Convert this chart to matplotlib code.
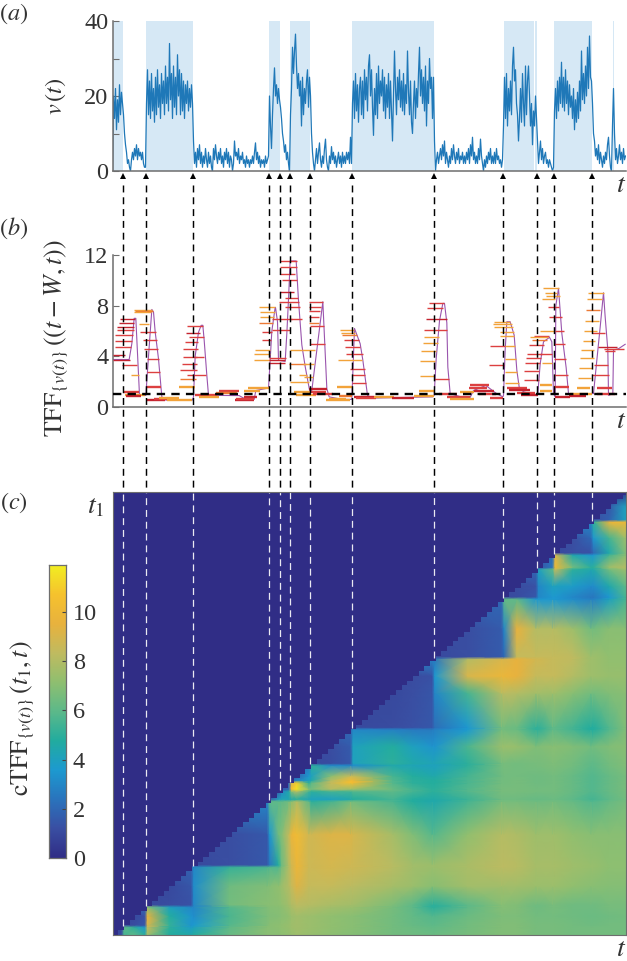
import numpy as np
import matplotlib
matplotlib.use("Agg")
import matplotlib.pyplot as plt
from matplotlib.colors import LinearSegmentedColormap
from matplotlib.lines import Line2D
from matplotlib.transforms import blended_transform_factory

plt.rcParams['font.family'] = ['Liberation Serif', 'DejaVu Serif']
plt.rcParams['mathtext.fontset'] = 'stix'
plt.rcParams['lines.scale_dashes'] = False

W_PX, H_PX = 627, 961
T_MAX = 1539

# ---------- panel (a): speed series, one sample every 3 time units ----------
v_a = [0,20,14,22,11,19,13,23,15,21,18,15,10,7,5,2,3,1,0,3,5,3,6,4,7,3,6,4,5,3,5,2,1,1]
v_b = [18,27,15,24,14,26,16,22,13,25,15,27,17,23,14,26,18,24,15,28,18,25,16,34,19,26,14,28,17,25,
       15,31,20,27,15,26,16,24,14,23,18,24,16,22,17,23,18]
v_c = [8,2,5,1,6,3,7,2,5,1,4,2,6,3,1,5,2,4,1,0,6,3,7,4,2,5,3,6,2,4,1,5,3,6,2,5,1,4,3,0,
       2,8,4,5,3,6,2,4,3,5,2,3,1,4,2,3,1,3,2,4,2,5,7.5,3,5,2,4,1,3,2,3,1,4,2,3]
v_d = [4,20,12,6,15,22,27.5,20,23,18,22,19,17,14,10,8,5,7,3,5,2,0]
v_e = [15,22,33,26,32,36.5,28,22,26,20,24,12,25,15,22,18,24,27,17,25,20]
v_f = [10,5,2,0,3,6,2,5,7.5,3,1,4,2,6,8.5,3,1,0,4,2,6.5,3,5,2,4,1,3,5,2,4,1,5,2,4,2,5,3,5,2,9,2]
v_g = [18,24,14,26,16,23,13,22,25,15,24,14,27,19,25,16,28,31,20,27,17,9.5,22,15,26,14,28,18,24,20,
       27,16,25,14,23,17,26,14,24,16,8,20,32,22,15,25,19,27,17,24,16,26,15,23,18,32,21,15,24,13,
       10,18,24,14,22,17,26,33,20,27,18,25,16,28,12,24,18,30,22,25,14,25]
v_h = [8,0,3,5,2,4,6,3,7,4,8,2,5,3,1,4,2,6,3,7,4,2,5,3,6,2,4,3,5,2,4,2,5,3,6,2,7,4,9,3,
       5,2,4,2,6,3,8.5,4,2,0,3,1,4,2,5,3,6,2,4,2,5,2,6,3,4,2,3,1,3]
v_i = [12,25,14,26,12,22,16,24,15,28,33,24,27,18,15,8,14,22,13,26,18,12,28,15,24,28,20,12,18,7,16,12,20,14]
v_j = [8,2,5,8,3,6,2,4,5,2,3,1,3,2,1,0,1]
v_k = [16,22,14,24,16,25,18,29,17,25,16,27,18,24,15,23,17,20,14,22,11,19,13,21,14,24,16,32,19,26,18,28,20,33,22,36,25,24]
v_l = [18,10,8,4,6,3,7,2,5,3,1,4,2,5,3,7,9,4,1,0,12,22,10,3,6,2,4,7,3,5,2,6,3,4]
speed = np.array(v_a + v_b + v_c + v_d + v_e + v_f + v_g + v_h + v_i + v_j + v_k + v_l, dtype=float)
speed_t = 3 * np.arange(len(speed))

congested = [(0,31),(101,240),(468,503),(533,593),(718,963),(1173,1263),(1268,1274),(1324,1439),(1500,1505)]
transitions = [31,101,240,468,503,533,593,718,963,1171,1274,1324,1439]

# ---------- panel (b): (left, right, value, colour index) of each window ----------
burst_1 = [(1,51,3.75,3),(1,38,4.09,3),(8,55,4.75,2),(8,58,5.22,2),(8,60,5.67,2),(13,63,6.07,2),(13,63,6.3,3),
           (18,65,6.65,3),(23,68,6.94,3),(28,73,3.3,2),(56,78,2.51,0),(31,80,1.19,2),(38,98,0.92,0),(40,85,0.88,3)]
burst_2 = [(63,118,7.65,0),(68,120,7.6,1),(63,116,7.52,0),(78,108,6.54,0),(83,130,5.94,2),(91,133,5.28,2),
           (95,135,4.6,2),(103,138,3.77,2),(103,141,2.77,2),(103,145,1.58,2),(103,158,0.58,3),(125,190,0.66,2),
           (163,238,0.53,0),(140,200,0.7,0)]
burst_3 = [(198,248,1.58,0),(203,250,2.24,1),(203,253,2.9,2),(208,253,3.43,2),(211,253,3.96,2),(211,255,4.54,2),
           (218,257,5.15,2),(220,263,5.88,3),(223,270,6.39,2),(223,281,2.51,2),(243,275,3.96,2),(228,273,5.49,2),
           (246,313,0.92,2),(260,320,0.8,0),(318,373,1.19,0),(320,380,1.3,2),(368,423,0.53,3),(393,433,0.79,3),
           (393,443,1.27,0),(405,468,1.5,0),(370,425,0.66,2),(310,370,1.1,1)]
burst_4 = [(438,488,7.92,0),(443,486,7.52,0),(443,483,7.12,0),(438,481,6.65,1),(448,478,5.94,2),(448,476,5.28,2),
           (428,473,4.49,0),(425,473,4.22,0),(423,471,3.69,0),(468,518,3.7,3),(470,518,3.5,3),(470,520,3.85,2),
           (478,538,6.94,2),(478,531,6.1,2),(501,543,9.1,3),(503,548,10.5,2),(508,553,10.03,2),(503,553,11.53,2),
           (503,553,11.08,2),(498,558,8.31,2),(518,556,8.63,2),(518,563,7.86,2),(533,568,6.94,2),(533,568,4.49,0),
           (528,581,3.43,1),(558,583,2.51,0),(533,588,1.98,0),(543,593,1.19,0),(550,610,0.95,0)]
burst_5 = [(588,631,8.31,2),(588,625,7.92,2),(590,623,7.57,2),(590,620,7.12,2),(590,618,6.6,1),(593,633,6.39,2),
           (593,638,5.01,2),(568,608,4.49,0),(570,605,3.43,0),(575,600,2.37,0),(590,643,1.45,3),(595,640,1.2,2),
           (600,660,1.0,2),(640,713,0.53,0),(650,700,0.62,0),(678,718,0.9,1)]
burst_6 = [(681,723,6.07,0),(685,728,5.88,0),(688,733,5.67,1),(693,738,5.28,2),(698,743,4.75,2),(701,751,4.22,2),
           (675,748,3.69,0),(713,758,3.03,2),(718,758,2.56,2),(718,761,1.9,2),(673,718,1.58,0),(723,783,0.79,3),
           (730,790,0.7,2),(783,843,0.8,0),(838,903,0.72,3),(903,963,0.85,0)]
burst_7 = [(948,993,8.18,2),(943,990,7.78,2),(940,1003,6.94,3),(935,1003,6.07,2),(933,978,5.49,0),(930,975,5.07,0),
           (926,971,4.43,0),(923,968,3.61,0),(921,965,2.45,0),(918,963,1.27,0),(965,1008,2.24,2),(978,1033,1.06,2),
           (1003,1073,0.79,2),(1013,1083,0.66,0),(1043,1083,1.19,0),(1073,1128,1.72,2),(1068,1123,1.53,2),
           (1083,1143,1.27,3),(1133,1171,0.74,2),(1100,1150,1.06,2)]
burst_8 = [(1143,1193,6.73,0),(1141,1198,6.54,0),(1145,1200,6.28,0),(1163,1203,5.94,0),(1163,1205,5.59,0),
           (1133,1176,4.83,2),(1130,1173,3.35,2),(1178,1208,4.8,0),(1178,1211,3.77,0),(1178,1213,2.77,0),
           (1178,1218,1.9,0),(1183,1243,1.53,2),(1188,1253,1.32,3),(1213,1268,1.11,2),(1225,1275,0.92,3)]
burst_9 = [(1263,1308,5.62,2),(1253,1305,5.49,0),(1258,1303,5.28,1),(1248,1293,4.88,2),(1243,1288,4.22,2),
           (1241,1285,3.9,2),(1238,1283,3.51,2),(1235,1280,2.85,2),(1233,1278,2.16,2),(1283,1318,4.17,2),
           (1288,1318,3.51,0),(1283,1318,1.72,0),(1283,1318,1.24,0)]
burst_10 = [(1290,1338,9.37,0),(1298,1333,9.02,0),(1301,1343,8.79,0),(1288,1328,8.55,0),(1305,1338,7.86,2),
            (1308,1348,7.12,2),(1283,1328,6.02,0),(1328,1353,6.02,2),(1323,1358,5.01,2),(1323,1361,3.77,2),
            (1323,1365,2.56,2),(1323,1368,1.58,2),(1326,1373,0.79,3),(1373,1438,1.06,0),(1370,1420,0.85,3)]
burst_11 = [(1425,1473,9.02,0),(1423,1468,8.52,0),(1421,1463,7.65,1),(1418,1458,6.81,0),(1413,1453,6.02,0),
            (1410,1448,5.2,0),(1405,1443,4.49,0),(1403,1443,3.88,0),(1398,1438,3.09,0),(1396,1436,2.3,0),
            (1393,1433,1.53,0),(1438,1478,5.88,2),(1443,1486,3.3,2),(1438,1488,2.56,2),(1453,1498,1.53,2),
            (1453,1508,1.06,2),(1455,1513,4.75,3),(1473,1533,4.57,2),(1478,1508,4.43,2)]
all_windows = (burst_1 + burst_2 + burst_3 + burst_4 + burst_5 + burst_6 +
               burst_7 + burst_8 + burst_9 + burst_10 + burst_11)
window_colours = ['#f2a33a', '#ec7a35', '#dc4040', '#c4232f']

envelope_t = [0,50,58,65,70,81,100,108,118,123,128,138,148,160,240,243,248,258,266,271,275,283,288,380,400,425,430,468,
              473,478,488,489,495,498,518,523,528,533,551,558,568,578,593,598,631,643,650,690,718,726,743,751,765,780,
              960,965,971,981,991,996,1003,1006,1013,1070,1083,1120,1150,1171,1173,1178,1183,1193,1205,1213,1220,1233,
              1273,1276,1283,1293,1311,1318,1323,1328,1330,1338,1348,1361,1368,1438,1443,1453,1463,1473,1478,1486,1488,
              1501,1503,1518,1538]
envelope_v = [3.75,3.75,5,7,7,0.92,0.92,4,7.7,7.5,5.94,3.8,0.8,0.55,0.55,0.8,4,5.9,6.45,6.45,5.28,2.5,0.92,0.9,0.6,0.6,1.3,1.5,
              3.7,6,7.86,7.86,6.73,3.69,3.6,5.8,8.5,11.53,11.53,8.4,4.9,3.2,1.06,1.32,8.31,1.45,0.8,0.6,0.6,6.2,5,3.7,0.92,0.7,
              0.8,0.92,3.8,6.8,8.18,8.18,6.65,3.15,1.06,0.6,1.3,1.7,1.1,0.8,0.92,4.5,6.73,6.73,5.67,2.9,1.58,1.2,
              0.9,1.06,3.4,5.15,5.5,5.15,1.06,0.79,8,9.37,5.8,3.1,1.06,1.06,1.06,3.69,6.3,9.02,7.12,4.5,0.92,
              1.06,4.5,4.6,4.95]
free_flow = 1.0

# ---------- panel (c): values at the grid nodes, rows hold only t >= t1 ----------
nodes = [0,27,35,66,97,105,170,236,244,350,464,472,499,507,529,537,553,589,597,655,714,722,840,900,959,967,
         1065,1167,1175,1213,1270,1278,1320,1328,1380,1435,1443,1490,1539]
r00 = [0.8,1,5.5,6,5,7.5,4.8,4.6,4.8,6.2,7,7,7,7.1,7.2,7.3,7.5,7.3,7.3,7.1,6.9,6.9,6.5,6.4,6.3,6.3,6.6,6.8,6.8,6.8,6.6,6.6,6.6,6.6,6.5,6.5,6.5,6.5,6.5]
r01 = [1,6,5,3.5,8.5,5,3.8,4,6,7,7,7.1,7.2,7.3,7.5,7.6,7.4,7.4,7.2,7,7,6.5,6.3,6.1,6.1,6.5,6.8,6.8,6.8,6.6,6.6,6.6,6.6,6.5,6.5,6.5,6.5,6.5]
r02 = [1,1.1,1.5,9,5.2,3.4,3.6,5.8,6.8,7,7.1,7.2,7.3,7.5,7.6,7.4,7.4,7.2,7,7,6.5,6.2,6,6,6.5,6.8,6.8,6.8,6.6,6.6,6.6,6.6,6.5,6.4,6.4,6.5,6.5]
r03 = [1,1.3,9.5,4.8,3.4,3.2,5.6,6.7,6.8,6.9,7,7.2,7.4,7.6,7.4,7.4,7.2,7,7,6.5,6.1,5.8,5.8,6.3,6.7,6.7,6.7,6.5,6.5,6.5,6.5,6.4,6.3,6.3,6.4,6.5]
r04 = [2,7,4,3,3,5.8,6.8,6.9,7,7.1,7.5,7.8,8.1,7.9,7.9,7.6,7.4,7.4,6.6,6,5,5,6,6.9,6.9,6.8,6.4,6.4,6.6,6.6,6.4,6.4,6.4,6.6,6.6]
r05 = [1,1.1,1.3,3,6.5,7,7,7.1,7.2,7.6,7.9,8.2,8,8,7.8,7.6,7.6,6.7,6,5,5,6,6.9,6.9,6.8,6.4,6.4,6.6,6.6,6.4,6.4,6.4,6.6,6.6]
r06 = [1,1.4,3.2,6.4,6.8,6.9,7.2,7.4,8,8.5,9.2,8.5,8.5,8.5,8.2,8.2,7.7,7.4,7,7,7.6,7.6,7.6,7.6,7.4,7.4,7.4,7.4,7.2,7,7,6.9,6.9]
r07 = [1.8,3,5.2,5.6,5.8,5.8,6.6,8,8.8,9.8,8.7,8.7,8.9,8.7,8.7,8.1,7.6,7.4,7.4,7.8,8.2,8.2,8.1,7.7,7.7,7.7,7.7,7.5,7.3,7.3,7.1,7.1]
r08 = [1,1.2,1.5,2.5,4.8,6.3,8,8.8,9.8,8.7,8.7,8.9,8.7,8.7,8.1,7.6,7.4,7.4,7.8,8.2,8.2,8.1,7.7,7.7,7.7,7.7,7.5,7.3,7.3,7.1,7.1]
r09 = [1.2,1.5,3.5,6.6,6.8,8.5,9.7,10.2,8.8,8.8,9.2,9.2,8.9,7.7,6.8,5.9,5.9,7.2,8,8,7.9,7.5,7.5,7.5,7.5,7.2,7,7,7,7]
r10 = [3,6,6,6,6.5,7,8,6,5,5.5,6.5,6.5,5.6,4.8,4.5,4.5,5.5,6.6,6.6,6.6,6.4,6.4,6.5,6.5,6.2,5.8,5.8,6.2,6.6]
r11 = [1.5,4,4.2,4.3,4.5,5,4.2,4,4,4.5,4.8,5.5,4.8,4.6,4.6,5.3,6.4,6.4,6.4,6.2,6.2,6.3,6.3,6,5.5,5.5,6,6.5]
r12 = [1.5,3,4.5,7,8,5.5,5,5.5,5.5,5.8,6,5.5,5,5,5.8,6.6,6.6,6.6,6.5,6.5,6.5,6.5,6.2,5.8,5.8,6.2,6.6]
r13 = [1.5,2,10.5,11.5,7,6.5,8,7.5,7.5,6.3,5.5,5,5,5.8,6.6,6.6,6.6,6.5,6.5,6.5,6.5,6.2,5.8,5.8,6.2,6.6]
r14 = [2,9,11,5,6,8.5,10.5,10.2,5.8,5,4.8,4.8,5.6,6.5,6.5,6.6,6.4,6.4,6.5,6.5,6.2,5.8,5.8,6.2,6.6]
r15 = [2,3,4,4.5,8,10.2,10,5.8,5,4.8,4.8,5.6,6.5,6.5,6.6,6.4,6.4,6.5,6.5,6.2,5.8,5.8,6.2,6.6]
r16 = [1.8,3.5,4,7,8.5,8.5,5.5,4.8,4.5,4.5,5.5,6.4,6.5,6.5,6.4,6.4,6.5,6.5,6.2,5.8,5.8,6.2,6.6]
r17 = [2.5,5,3.2,3,3.2,4.5,4.2,4,4,5,6.5,6.6,6.5,6.6,6.6,6.7,6.7,6.5,6,6,6.5,6.8]
r18 = [1,1.1,1.5,4,5,4.5,4.2,4.2,5,6.5,6.6,6.5,6.6,6.6,6.7,6.7,6.5,6,6,6.5,6.8]
r19 = [1.2,1.6,4,4.8,4,3.4,3.4,5.6,7.4,7.4,7.3,6.8,6.8,7,7,6.8,6.5,6.5,6.8,7]
r20 = [2,3,2.8,2.6,2.6,2.8,3.6,6.5,6.5,6.3,5.1,5.1,6,6,5.5,4.8,4.8,5.8,6.8]
r21 = [1.0,1.1,1.3,1.5,2.2,3.5,6.5,6.5,6.3,5.1,5.1,6,6,5.5,4.8,4.8,5.8,6.8]
r22 = [1,1.2,1.4,3,5.5,8,8.2,8,7.6,7.6,7.5,7.5,7,6.5,6.5,6.8,7]
r23 = [1.1,1.3,3.5,9,9.8,9.8,9.5,8.5,8.5,8.5,8.5,8,7.5,7.5,7.3,7.3]
r24 = [3,2.5,8,9,9,9.5,8.8,8.8,8.5,8.5,8.3,7.5,7.5,7.2,7.2]
r25 = [1,1.2,1.6,2,8.5,8.5,8.5,8.5,8.5,8.3,7.5,7.5,7.2,7.2]
r26 = [1.2,1.6,3,9.5,8,8,8,8,7.5,6.5,6.5,7,7]
r27 = [2,6,6,3.5,3.5,3.5,3.5,3.2,2.8,2.8,4,5.5]
r28 = [1,1.1,1.5,3,3.5,3.5,3,2.5,2.5,3.5,5.5]
r29 = [1.1,1.3,3,4,4,3.8,3.2,3.2,4.5,6]
r30 = [2,4,6,8.5,5,4.5,4.5,6.5,7.5]
r31 = [1.2,2.5,10,6.5,5,5,7.5,8]
r32 = [2,9,4.5,3.5,3.5,5.5,7]
r33 = [1,1.2,1.3,2,4.5,6.8]
r34 = [1.2,2,3.5,5.5,7.5]
r35 = [3,5,9.8,10]
r36 = [1.2,1.8,4]
r37 = [1.5,4]
r38 = [0.2]
rows = [r00,r01,r02,r03,r04,r05,r06,r07,r08,r09,r10,r11,r12,r13,r14,r15,r16,r17,r18,r19,
        r20,r21,r22,r23,r24,r25,r26,r27,r28,r29,r30,r31,r32,r33,r34,r35,r36,r37,r38]
cbar_ticks = [0,2,4,6,8,10]
cbar_top = 11.9
cmap_anchors = ['#302d86','#3a4fa3','#2a74bd','#1d9ad0','#22ac9f','#5cb98a','#8fbf70','#c0bb60','#e8b23e','#f6c22e','#f2ee22']


def ax_px(x0, y_top, x1, y_bot):
    return fig.add_axes([x0 / W_PX, 1 - y_bot / H_PX, (x1 - x0) / W_PX, (y_bot - y_top) / H_PX])


grey = '#6e6e6e'
ink = '#333333'
fig = plt.figure(figsize=(W_PX / 100, H_PX / 100), dpi=100)

# (a)
ax_a = ax_px(112.5, 21, 625.5, 171)
for lo, hi in congested:
    ax_a.axvspan(lo, hi, color='#d6e8f5', lw=0)
ax_a.plot(speed_t, speed, color='#1f78b8', lw=0.9)
ax_a.set_xlim(0, T_MAX)
ax_a.set_ylim(0, 40)
ax_a.set_xticks([])
ax_a.set_yticks([0, 20, 40])
ax_a.set_yticks([10, 30], minor=True)

# (b)
ax_b = ax_px(112.5, 255, 625.5, 407)
ax_b.plot(envelope_t, envelope_v, color='#9a55ae', lw=0.8, zorder=2)
for left, right, value, c in all_windows:
    ax_b.plot([left, right], [value, value], color=window_colours[c],
              lw=1.7 if value < 1.8 else 1.0, solid_capstyle='butt', zorder=3)
ax_b.plot([0, T_MAX], [free_flow, free_flow], color='black', lw=1.7, dashes=(6, 4.5), zorder=6)
ax_b.set_xlim(0, T_MAX)
ax_b.set_ylim(0, 12)
ax_b.set_xticks([])
ax_b.set_yticks([0, 4, 8, 12])

for ax in (ax_a, ax_b):
    ax.patch.set_alpha(0)
    for s in ('top', 'right'):
        ax.spines[s].set_visible(False)
    for s in ('left', 'bottom'):
        ax.spines[s].set_color(grey)
        ax.spines[s].set_linewidth(1.1)
    ax.tick_params(axis='y', which='both', direction='in', length=4.5, width=0.8, color=grey,
                   labelsize=17.5, labelcolor=ink, pad=3)

# (c)
cmap = LinearSegmentedColormap.from_list('printed_parula', cmap_anchors)
ax_c = ax_px(112.5, 492, 625.5, 935)
matrix = np.array([[r[0]] * (len(nodes) - len(r)) + r for r in rows])
ax_c.pcolormesh(nodes, nodes, matrix, shading='gouraud', cmap=cmap, vmin=0, vmax=cbar_top)
stair = np.arange(0, T_MAX + 17, 17)
ax_c.fill_between(stair, stair, T_MAX, step='post', color=cmap(0.0), lw=0, zorder=3)
for b in transitions:
    ax_c.plot([b, b], [b, T_MAX], color='white', lw=0.9, dashes=(5, 3.5), zorder=4, alpha=0.9)
ax_c.set_xlim(0, T_MAX)
ax_c.set_ylim(0, T_MAX)
ax_c.set_xticks([])
ax_c.set_yticks([])
for s in ax_c.spines.values():
    s.set_color(grey)
    s.set_linewidth(0.8)
    s.set_zorder(8)

# colourbar
ax_cb = ax_px(48.5, 565, 66, 858)
ax_cb.imshow(np.linspace(0, cbar_top, 256)[:, None], aspect='auto', origin='lower', cmap=cmap,
             vmin=0, vmax=cbar_top, extent=[0, 1, 0, cbar_top])
ax_cb.set_xticks([])
ax_cb.yaxis.tick_right()
ax_cb.set_yticks(cbar_ticks)
ax_cb.tick_params(axis='y', direction='in', length=3, width=0.8, color='#444444', labelsize=17.5, labelcolor=ink, pad=5)
for s in ax_cb.spines.values():
    s.set_color(grey)
    s.set_linewidth(0.9)

# connecting dashed lines and arrows
tr = blended_transform_factory(ax_a.transData, fig.transFigure)
for b in transitions:
    fig.add_artist(Line2D([b, b], [1 - 185 / H_PX, 1 - 491 / H_PX], transform=tr, color='black',
                          lw=1.05, dashes=(5, 3.5), zorder=10))
    fig.add_artist(Line2D([b], [1 - 175.5 / H_PX], transform=tr, color='black', marker='^', ms=4.5,
                          mew=0, ls='none', zorder=10))

# texts
def label(x, y, s, size=16, rot=0, ha='center', va='center'):
    fig.text(x / W_PX, 1 - y / H_PX, s, fontsize=size, rotation=rot, ha=ha, va=va, color=ink)


label(14, 14, r'$(a)$', 17.5)
label(14, 228, r'$(b)$', 17.5)
label(14, 503, r'$(c)$', 17.5)
label(56, 96, r'$v\,(t)$', 17.5, 90)
label(56, 338, r'$\mathrm{TFF}_{\{v(t)\}}\,((t-W,t))$', 18.5, 90)
label(22, 718, r'$\mathrm{cTFF}_{\{v(t)\}}\,(t_1,t)$', 18.5, 90)
label(621, 186, r'$t$', 20)
label(621, 421, r'$t$', 20)
label(621, 949, r'$t$', 20)
label(96, 507, r'$t_1$', 20)

fig.savefig('out.png', dpi=100)
